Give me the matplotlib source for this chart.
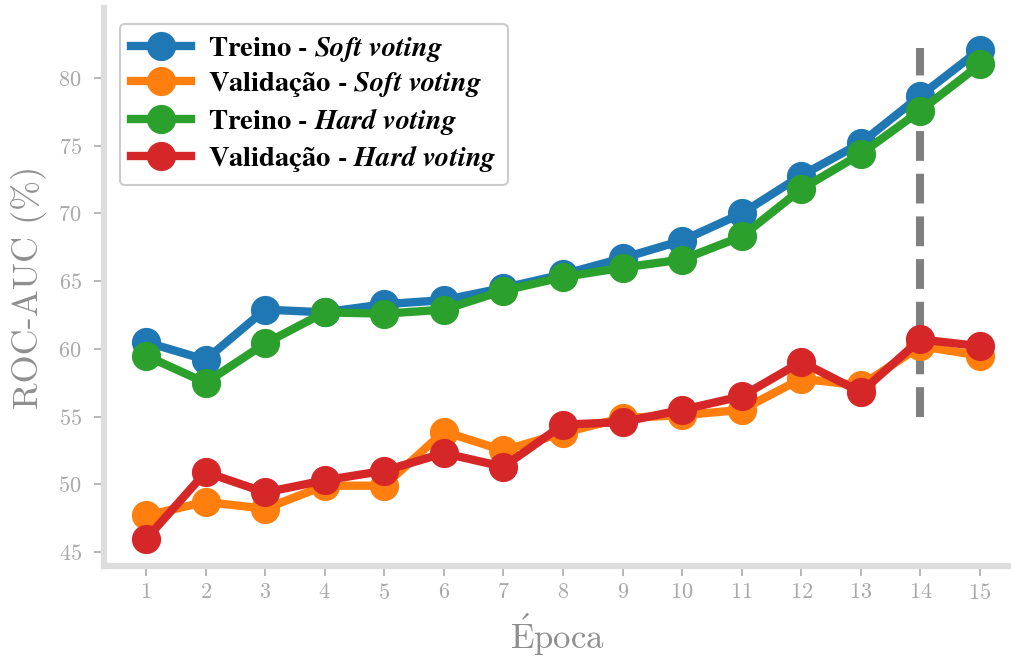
import matplotlib
matplotlib.use("Agg")
import matplotlib.pyplot as plt
from matplotlib.font_manager import FontProperties

plt.rcParams["mathtext.fontset"] = "cm"
plt.rcParams["font.family"] = ["cmr10", "STIXGeneral"]
plt.rcParams["axes.formatter.use_mathtext"] = True

# ROC-AUC (%) per training epoch
epochs = list(range(1, 16))
treino_soft = [60.5, 59.2, 62.9, 62.7, 63.3, 63.6, 64.5, 65.5, 66.7, 68.0, 70.0, 72.8, 75.2, 78.7, 82.1]
valid_soft = [47.7, 48.7, 48.2, 49.9, 49.9, 53.9, 52.5, 53.8, 54.9, 55.1, 55.5, 57.8, 57.3, 60.2, 59.5]
treino_hard = [59.5, 57.5, 60.4, 62.7, 62.6, 62.9, 64.3, 65.3, 66.0, 66.6, 68.3, 71.8, 74.4, 77.6, 81.0]
valid_hard = [45.95, 50.9, 49.4, 50.3, 51.0, 52.3, 51.3, 54.4, 54.6, 55.5, 56.5, 59.05, 56.8, 60.7, 60.2]

series_labels = [
    r"Treino - $\mathbfit{Soft\ voting}$",
    r"Validação - $\mathbfit{Soft\ voting}$",
    r"Treino - $\mathbfit{Hard\ voting}$",
    r"Validação - $\mathbfit{Hard\ voting}$",
]
series_colors = ["#1f77b4", "#ff7f0e", "#2ca02c", "#d62728"]

best_epoch = 14
best_span = (55.0, 82.2)

fig = plt.figure(figsize=(10.11, 6.59), dpi=100)
ax = fig.add_axes([104 / 1011, 93 / 659, 907 / 1011, 558 / 659])

ax.plot([best_epoch, best_epoch], best_span, color="#808080", lw=5.8,
        linestyle="--", zorder=1)

for vals, lab, col in zip([treino_soft, valid_soft, treino_hard, valid_hard],
                          series_labels, series_colors):
    ax.plot(epochs, vals, "-o", color=col, lw=6, markersize=20, label=lab, zorder=2)

ax.set_xlim(0.295, 15.52)
ax.set_ylim(43.97, 85.17)
ax.set_xticks(epochs)
ax.set_yticks([45, 50, 55, 60, 65, 70, 75, 80])

for side in ("top", "right"):
    ax.spines[side].set_visible(False)
for side in ("left", "bottom"):
    ax.spines[side].set_color("#dddddd")
    ax.spines[side].set_linewidth(4.5)

ax.tick_params(axis="both", colors="#aaaaaa", labelcolor="#a8a8a8",
               length=7, width=1.2, labelsize=16)
ax.tick_params(axis="y", pad=9)
ax.tick_params(axis="x", pad=5)

ax.set_ylabel("ROC-AUC (%)", fontsize=26, color="#8f8f8f", labelpad=8)
ax.set_xlabel(r"$\mathrm{\acute{E}poca}$", fontsize=25, color="#8f8f8f", labelpad=7)

leg_font = FontProperties(family="STIXGeneral", weight="bold", size=20.5)
leg = ax.legend(loc="upper left", prop=leg_font, frameon=True, fancybox=True,
                borderaxespad=0.55, handlelength=2.1, labelspacing=0.22,
                handletextpad=0.6, borderpad=0.4)
for txt in leg.get_texts():
    txt.set_math_fontfamily("stix")
leg.get_frame().set_edgecolor("#cccccc")
leg.get_frame().set_linewidth(1.5)
leg.get_frame().set_alpha(1.0)

fig.savefig("out.png", dpi=100)
